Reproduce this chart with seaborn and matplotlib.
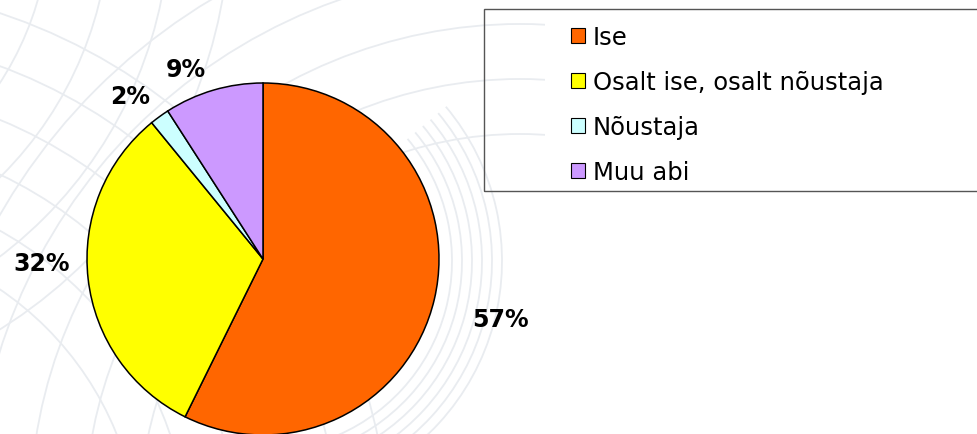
import numpy as np
import matplotlib
matplotlib.use("Agg")
import matplotlib.pyplot as plt
from matplotlib.patches import Rectangle, Circle, Arc, Patch
import seaborn as sns

# Survey answers: who filled in the form
categories = ["Ise", "Osalt ise, osalt nõustaja", "Nõustaja", "Muu abi"]
shares = [57.3, 31.8, 1.8, 9.1]
colors = ["#FF6600", "#FFFF00", "#CCFFFF", "#CC99FF"]

sns.set_theme(style="white")
plt.rcParams["font.family"] = ["DejaVu Sans"]

W, H = 978, 435
fig = plt.figure(figsize=(W / 100, H / 100), dpi=100)
fig.patch.set_facecolor("white")

# faint decorative grid of arcs in the background
bg = fig.add_axes([0, 0, 1, 1])
bg.set_xlim(0, W)
bg.set_ylim(0, H)
bg.axis("off")
line_col = "#e9ecf0"
for r in np.arange(190, 250, 10):
    bg.add_patch(Arc((262, H - 262), 2 * r, 2 * r, theta1=-70, theta2=40,
                     ec=line_col, lw=1.3))
for r in np.arange(320, 620, 50):
    bg.add_patch(Circle((-180, -120), r, fill=False, ec=line_col, lw=1.3))
for r in np.arange(380, 640, 55):
    bg.add_patch(Circle((520, -80), r, fill=False, ec=line_col, lw=1.3))
for r in np.arange(250, 520, 60):
    bg.add_patch(Circle((-260, 520), r, fill=False, ec=line_col, lw=1.3))
bg.add_patch(Rectangle((545, 0), W - 545, H, fc="white", ec="none", zorder=2))

# pie axes: center (263, 260) px, radius 176 px
R = 176
cx, cy = 263, 260
ax = fig.add_axes([(cx - R) / W, (H - cy - R) / H, 2 * R / W, 2 * R / H])

wedges, _ = ax.pie(
    shares,
    colors=colors,
    startangle=90,
    counterclock=False,
    radius=1,
    wedgeprops=dict(edgecolor="black", linewidth=1.1),
)
ax.set_xlim(-1, 1)
ax.set_ylim(-1, 1)
ax.set_aspect("auto")
ax.axis("off")

# percentage labels placed around each wedge
label_dist = [1.39, 1.256, 1.195, 1.165]
label_shift = [-1.1, -5.5, 3.2, 5.7]
for w, v, d, s in zip(wedges, shares, label_dist, label_shift):
    mid = np.deg2rad((w.theta1 + w.theta2) / 2 + s)
    ax.text(d * np.cos(mid), d * np.sin(mid), f"{v:.0f}%",
            ha="center", va="center", fontsize=17, fontweight="bold",
            color="black", clip_on=False)

# legend box spanning to the right edge
fig.patches.append(Rectangle((484 / W, 1 - 192 / H), (W - 484 + 5) / W, (192 - 10) / H,
                             transform=fig.transFigure, fill=False,
                             ec="#555555", lw=1.0, zorder=5))
handles = [Patch(facecolor=c, edgecolor="black", linewidth=0.8) for c in colors]
leg = fig.legend(handles, categories, loc="upper left",
                 bbox_to_anchor=(559 / W, 1 - 14 / H),
                 frameon=False, fontsize=17.5, handlelength=0.58, handleheight=0.58,
                 handletextpad=0.32, labelspacing=0.86, borderpad=0)
for t in leg.get_texts():
    t.set_color("black")

fig.savefig("out.png", dpi=100, facecolor="white")
